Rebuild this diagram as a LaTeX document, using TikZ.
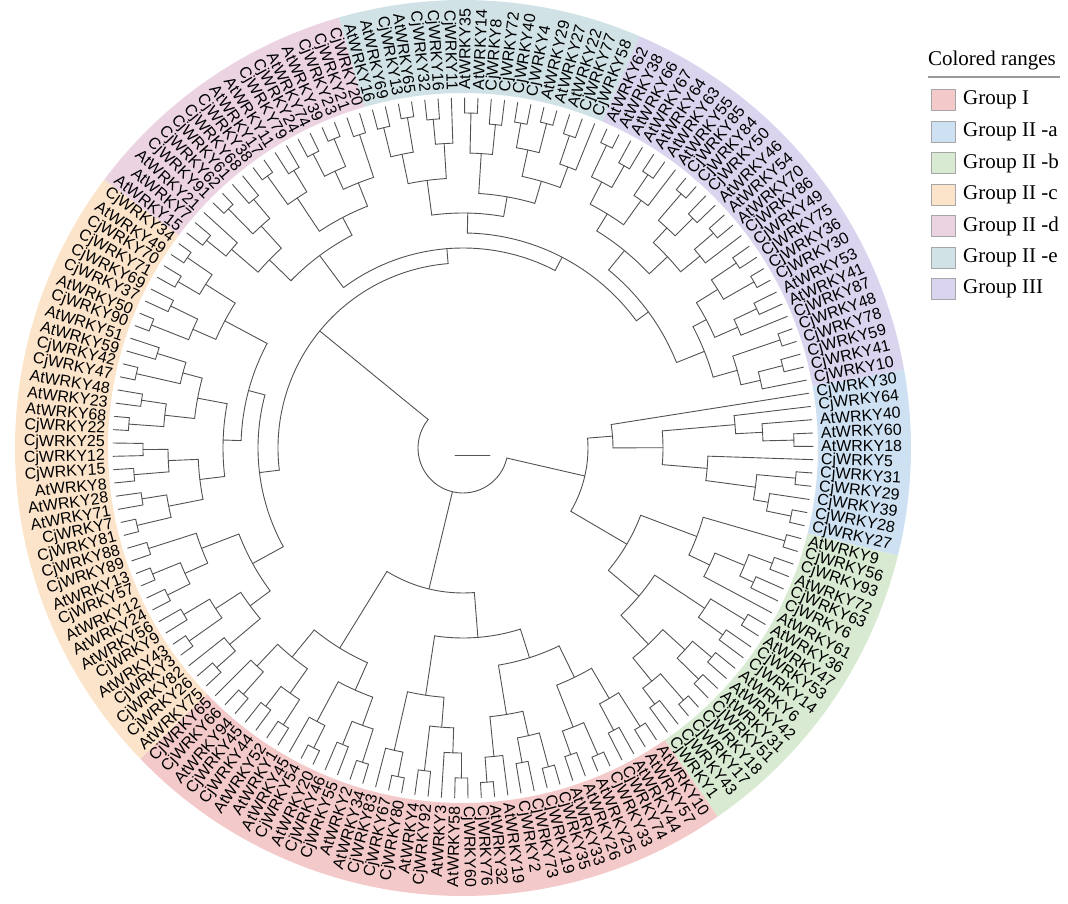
\documentclass[tikz,border=0pt]{standalone}
\usepackage{fontspec}
\setmainfont{Liberation Serif}
\newfontfamily\labfont{Liberation Sans}
\usetikzlibrary{positioning}

\definecolor{colI}{RGB}{244,201,201}
\definecolor{colIIa}{RGB}{206,225,243}
\definecolor{colIIb}{RGB}{216,234,210}
\definecolor{colIIc}{RGB}{252,228,203}
\definecolor{colIId}{RGB}{236,211,226}
\definecolor{colIIe}{RGB}{208,226,229}
\definecolor{colIII}{RGB}{218,212,238}

\tikzset{
  branch/.style={draw=black!68, line width=0.9pt, line cap=round},
  leaflab/.style={font=\labfont\fontsize{16}{16}\selectfont, inner sep=0pt},
  legtext/.style={font=\fontsize{21}{21}\selectfont, inner sep=0pt, anchor=west},
  legbox/.style={draw=black!35, line width=0.6pt, minimum width=24pt, minimum height=21pt, inner sep=0pt}
}

\newcommand\startang{9}
\newcommand\stepang{2.181818}
\newcommand\leafrad{350}

% one internal node: name, radius, children (first to last)
\newcommand\clade[3]{%
  \gdef\cfirst{}%
  \foreach \ch in {#3}{%
    \edef\ca{\csname ta@\ch\endcsname}\edef\cr{\csname tr@\ch\endcsname}%
    \draw[branch] (\ca:#2pt) -- (\ca:\cr pt);
    \ifx\cfirst\empty\xdef\cfirst{\ch}\fi
    \xdef\clast{\ch}%
  }%
  \edef\fa{\csname ta@\cfirst\endcsname}\edef\la{\csname ta@\clast\endcsname}%
  \draw[branch] (\fa:#2pt) arc[start angle=\fa, end angle=\la, radius=#2pt];
  \pgfmathsetmacro\ma{(\fa+\la)/2}%
  \expandafter\xdef\csname ta@#1\endcsname{\ma}%
  \expandafter\xdef\csname tr@#1\endcsname{#2}%
}

% coloured range from leaf to leaf
\newcommand\ringsec[3]{%
  \pgfmathsetmacro\sa{\startang-(#1-1.5)*\stepang}%
  \pgfmathsetmacro\sb{\startang-(#2-0.5)*\stepang}%
  \fill[#3] (\sa:355pt) arc[start angle=\sa, end angle=\sb, radius=355pt]
    -- (\sb:448pt) arc[start angle=\sb, end angle=\sa, radius=448pt] -- cycle;
}

\begin{document}
\begin{tikzpicture}[x=1pt,y=1pt]
\useasboundingbox (-463,-455) rectangle (605,448);

% coloured ranges
\ringsec{1}{11}{colIIa}
\ringsec{12}{30}{colIIb}
\ringsec{31}{67}{colI}
\ringsec{68}{104}{colIIc}
\ringsec{105}{121}{colIId}
\ringsec{122}{139}{colIIe}
\ringsec{140}{165}{colIII}

% leaf labels
\foreach \lab [count=\i] in {CjWRKY30,CjWRKY64,AtWRKY40,AtWRKY60,AtWRKY18,CjWRKY5,CjWRKY31,CjWRKY29,CjWRKY39,CjWRKY28,CjWRKY27,
  AtWRKY9,CjWRKY56,CjWRKY93,AtWRKY72,CjWRKY63,CjWRKY6,AtWRKY61,AtWRKY36,AtWRKY47,CjWRKY53,CjWRKY14,AtWRKY6,AtWRKY42,AtWRKY31,CjWRKY51,CjWRKY18,CjWRKY17,CjWRKY43,CjWRKY1,
  AtWRKY10,AtWRKY57,AtWRKY44,CjWRKY74,CjWRKY33,AtWRKY25,AtWRKY26,AtWRKY33,CjWRKY35,CjWRKY19,CjWRKY73,CjWRKY2,AtWRKY19,AtWRKY32,CjWRKY76,CjWRKY60,AtWRKY58,AtWRKY3,CjWRKY92,AtWRKY4,CjWRKY80,CjWRKY67,CjWRKY83,AtWRKY34,AtWRKY2,CjWRKY55,CjWRKY46,AtWRKY20,CjWRKY54,AtWRKY45,AtWRKY1,AtWRKY52,CjWRKY44,CjWRKY45,AtWRKY94,CjWRKY66,CjWRKY65,
  AtWRKY75,CjWRKY26,CjWRKY82,CjWRKY3,AtWRKY43,CjWRKY9,AtWRKY56,AtWRKY24,AtWRKY12,CjWRKY57,AtWRKY13,CjWRKY89,CjWRKY88,CjWRKY81,CjWRKY7,AtWRKY71,AtWRKY28,AtWRKY8,CjWRKY15,CjWRKY12,CjWRKY25,CjWRKY22,AtWRKY68,AtWRKY23,AtWRKY48,CjWRKY47,CjWRKY42,AtWRKY59,AtWRKY51,CjWRKY90,AtWRKY50,CjWRKY37,CjWRKY69,CjWRKY71,CjWRKY70,AtWRKY49,CjWRKY34,
  AtWRKY15,AtWRKY7,AtWRKY21,CjWRKY91,CjWRKY62,CjWRKY61,CjWRKY68,CjWRKY38,AtWRKY17,AtWRKY11,CjWRKY79,CjWRKY24,AtWRKY74,AtWRKY39,CjWRKY23,CjWRKY21,CjWRKY20,
  AtWRKY16,AtWRKY69,CjWRKY13,AtWRKY65,CjWRKY32,CjWRKY16,CjWRKY11,AtWRKY35,AtWRKY14,CjWRKY8,CjWRKY72,CjWRKY40,CjWRKY4,AtWRKY29,AtWRKY27,AtWRKY22,CjWRKY77,CjWRKY58,
  AtWRKY62,AtWRKY38,AtWRKY66,AtWRKY67,AtWRKY64,AtWRKY63,AtWRKY55,CjWRKY85,CjWRKY84,CjWRKY50,AtWRKY46,AtWRKY54,AtWRKY70,CjWRKY86,CjWRKY49,CjWRKY75,CjWRKY36,CjWRKY30,AtWRKY53,AtWRKY41,CjWRKY87,CjWRKY48,CjWRKY78,CjWRKY59,CjWRKY41,CjWRKY10}{
  \pgfmathsetmacro\ang{\startang-(\i-1)*\stepang}
  \expandafter\xdef\csname ta@\i\endcsname{\ang}
  \expandafter\xdef\csname tr@\i\endcsname{\leafrad}
  \pgfmathsetmacro\cs{cos(\ang)}
  \ifdim\cs pt<0pt
    \node[leaflab, anchor=east, rotate=\ang+180] (lf\i) at (\ang:358pt) {\lab};
  \else
    \node[leaflab, anchor=west, rotate=\ang] (lf\i) at (\ang:358pt) {\lab};
  \fi
}

% Group II-a
\clade{a1}{331}{4,5}
\clade{a2}{300}{3,a1}
\clade{a3}{273}{2,a2}
\clade{a4}{334}{7,8}
\clade{a5}{335}{10,11}
\clade{a6}{310}{9,a5}
\clade{a7}{295}{a4,a6}
\clade{a8}{245}{6,a7}
\clade{a9}{200}{a3,a8}
\clade{IIa}{150}{1,a9}
% Group II-b
\clade{b1}{335}{12,13}
\clade{b2}{330}{14,15}
\clade{b3}{320}{16,17}
\clade{b4}{305}{b2,b3}
\clade{b6}{273}{b4,18}
\clade{b7}{250}{b1,b6}
\clade{b8}{330}{19,20}
\clade{b9}{320}{21,22}
\clade{b10}{290}{b8,b9}
\clade{b11}{325}{23,24}
\clade{b12}{330}{25,26}
\clade{b13}{300}{b11,b12}
\clade{b14}{335}{27,28}
\clade{b15}{320}{29,30}
\clade{b16}{300}{b14,b15}
\clade{b17}{270}{b13,b16}
\clade{b18}{230}{b10,b17}
\clade{IIb}{190}{b7,b18}
% Group I
\clade{g1}{330}{31,32}
\clade{g2}{320}{33,34}
\clade{g3}{290}{g1,g2}
\clade{g4}{335}{35,36}
\clade{g5}{325}{37,38}
\clade{g6}{300}{g4,g5}
\clade{g7}{255}{g3,g6}
\clade{g8}{330}{39,40}
\clade{g9}{320}{41,42}
\clade{g10}{295}{g8,g9}
\clade{g11a}{335}{44,45}
\clade{g11}{310}{43,g11a}
\clade{g12}{270}{g10,g11}
\clade{g13}{220}{g7,g12}
\clade{g14}{330}{46,47}
\clade{g15}{305}{48,g14}
\clade{g16}{325}{49,50}
\clade{g17}{280}{g15,g16}
\clade{g18}{335}{51,52}
\clade{g19}{310}{53,g18}
\clade{g20}{250}{g17,g19}
\clade{g21}{190}{g13,g20}
\clade{g22}{330}{54,55}
\clade{g23}{320}{56,57}
\clade{g24}{295}{g22,g23}
\clade{g25}{335}{58,59}
\clade{g26}{310}{60,g25}
\clade{g27}{265}{g24,g26}
\clade{g28}{330}{61,62}
\clade{g29}{325}{63,64}
\clade{g30}{300}{g28,g29}
\clade{g31}{330}{65,66}
\clade{g32}{300}{g31,67}
\clade{g33}{270}{g30,g32}
\clade{g34}{235}{g27,g33}
\clade{GI}{145}{g21,g34}
% Group II-c
\clade{c1}{330}{68,69}
\clade{c2}{305}{c1,70}
\clade{c3}{335}{71,72}
\clade{c4}{325}{73,74}
\clade{c5}{295}{c3,c4}
\clade{c6}{265}{c2,c5}
\clade{c7}{330}{75,76}
\clade{c8}{335}{77,78}
\clade{c9}{305}{c7,c8}
\clade{c10}{330}{79,80}
\clade{c11}{280}{c9,c10}
\clade{c12}{240}{c6,c11}
\clade{c13}{335}{81,82}
\clade{c14}{325}{83,84}
\clade{c15}{300}{c13,c14}
\clade{c16}{330}{85,86}
\clade{c17}{320}{87,88}
\clade{c18}{295}{c16,c17}
\clade{c19}{265}{c15,c18}
\clade{c20}{335}{89,90}
\clade{c21}{325}{91,92}
\clade{c22}{300}{c20,c21}
\clade{c23}{335}{93,94}
\clade{c24}{320}{95,96}
\clade{c25}{290}{c23,c24}
\clade{c26}{270}{c22,c25}
\clade{c27}{240}{c19,c26}
\clade{c28}{335}{97,98}
\clade{c29}{325}{99,100}
\clade{c30}{295}{c28,c29}
\clade{c31}{330}{101,102}
\clade{c32}{335}{103,104}
\clade{c33}{305}{c31,c32}
\clade{c34}{270}{c30,c33}
\clade{c35}{222}{c27,c34}
\clade{IIc}{205}{c12,c35}
% Group II-d
\clade{d1}{330}{105,106}
\clade{d2}{305}{d1,107}
\clade{d3}{335}{108,109}
\clade{d4}{325}{110,111}
\clade{d5}{300}{d3,d4}
\clade{d6}{270}{d2,d5}
\clade{d7}{335}{112,113}
\clade{d8}{325}{114,115}
\clade{d9}{300}{d7,d8}
\clade{d10}{330}{116,117}
\clade{d11}{335}{118,119}
\clade{d12}{305}{d10,d11}
\clade{d13}{330}{120,121}
\clade{d14}{285}{d12,d13}
\clade{d15}{260}{d9,d14}
\clade{IId}{240}{d6,d15}
% Group II-e
\clade{e1}{330}{122,123}
\clade{e2}{335}{124,125}
\clade{e3}{300}{e1,e2}
\clade{e4}{330}{126,127}
\clade{e5}{305}{e4,128}
\clade{e6}{270}{e3,e5}
\clade{e7}{335}{129,130}
\clade{e8}{325}{131,132}
\clade{e9}{295}{e7,e8}
\clade{e10}{330}{133,134}
\clade{e11}{335}{135,136}
\clade{e12}{305}{e10,e11}
\clade{e13}{330}{137,138}
\clade{e14}{300}{e13,139}
\clade{e15}{278}{e12,e14}
\clade{e16}{255}{e9,e15}
\clade{IIe}{235}{e6,e16}
% Group III
\clade{h1}{335}{140,141}
\clade{h2}{325}{142,143}
\clade{h3}{300}{h1,h2}
\clade{h4}{330}{144,145}
\clade{h5}{305}{h4,146}
\clade{h6}{275}{h3,h5}
\clade{h7}{335}{147,148}
\clade{h8}{325}{149,150}
\clade{h9}{300}{h7,h8}
\clade{h10}{330}{151,152}
\clade{h11}{305}{h10,153}
\clade{h12}{280}{h9,h11}
\clade{h13}{255}{h6,h12}
\clade{h14}{330}{154,155}
\clade{h15}{335}{156,157}
\clade{h16}{300}{h14,h15}
\clade{h17}{325}{158,159}
\clade{h18}{300}{h17,160}
\clade{h19}{275}{h16,h18}
\clade{h20}{335}{161,162}
\clade{h21}{330}{163,164}
\clade{h22}{305}{h21,165}
\clade{h23}{285}{h20,h22}
\clade{h24}{260}{h19,h23}
\clade{III}{230}{h13,h24}
% deep nodes
\clade{AB}{125}{IIa,IIb}
\clade{EH}{215}{IIe,III}
\clade{DEH}{200}{IId,EH}
\clade{CDEH}{185}{IIc,DEH}
\clade{root}{45}{AB,GI,CDEH}
\draw[branch] (-8,-7) -- (27,-7);

% legend
\node[font=\fontsize{21}{21}\selectfont, inner sep=0pt] (legtitle) at (529,388) {Colored ranges};
\draw[black!40, line width=1.5pt] (465,371) -- (597,371);
\foreach \col/\txt [count=\k] in {colI/Group I,colIIa/Group II -a,colIIb/Group II -b,colIIc/Group II -c,colIId/Group II -d,colIIe/Group II -e,colIII/Group III}{
  \node[legbox, fill=\col] (box\k) at (480,{448-100-(\k-1)*31.5}) {};
  \node[legtext] (leg\k) at (500,{448-100-(\k-1)*31.5}) {\txt};
}
\end{tikzpicture}
\end{document}
